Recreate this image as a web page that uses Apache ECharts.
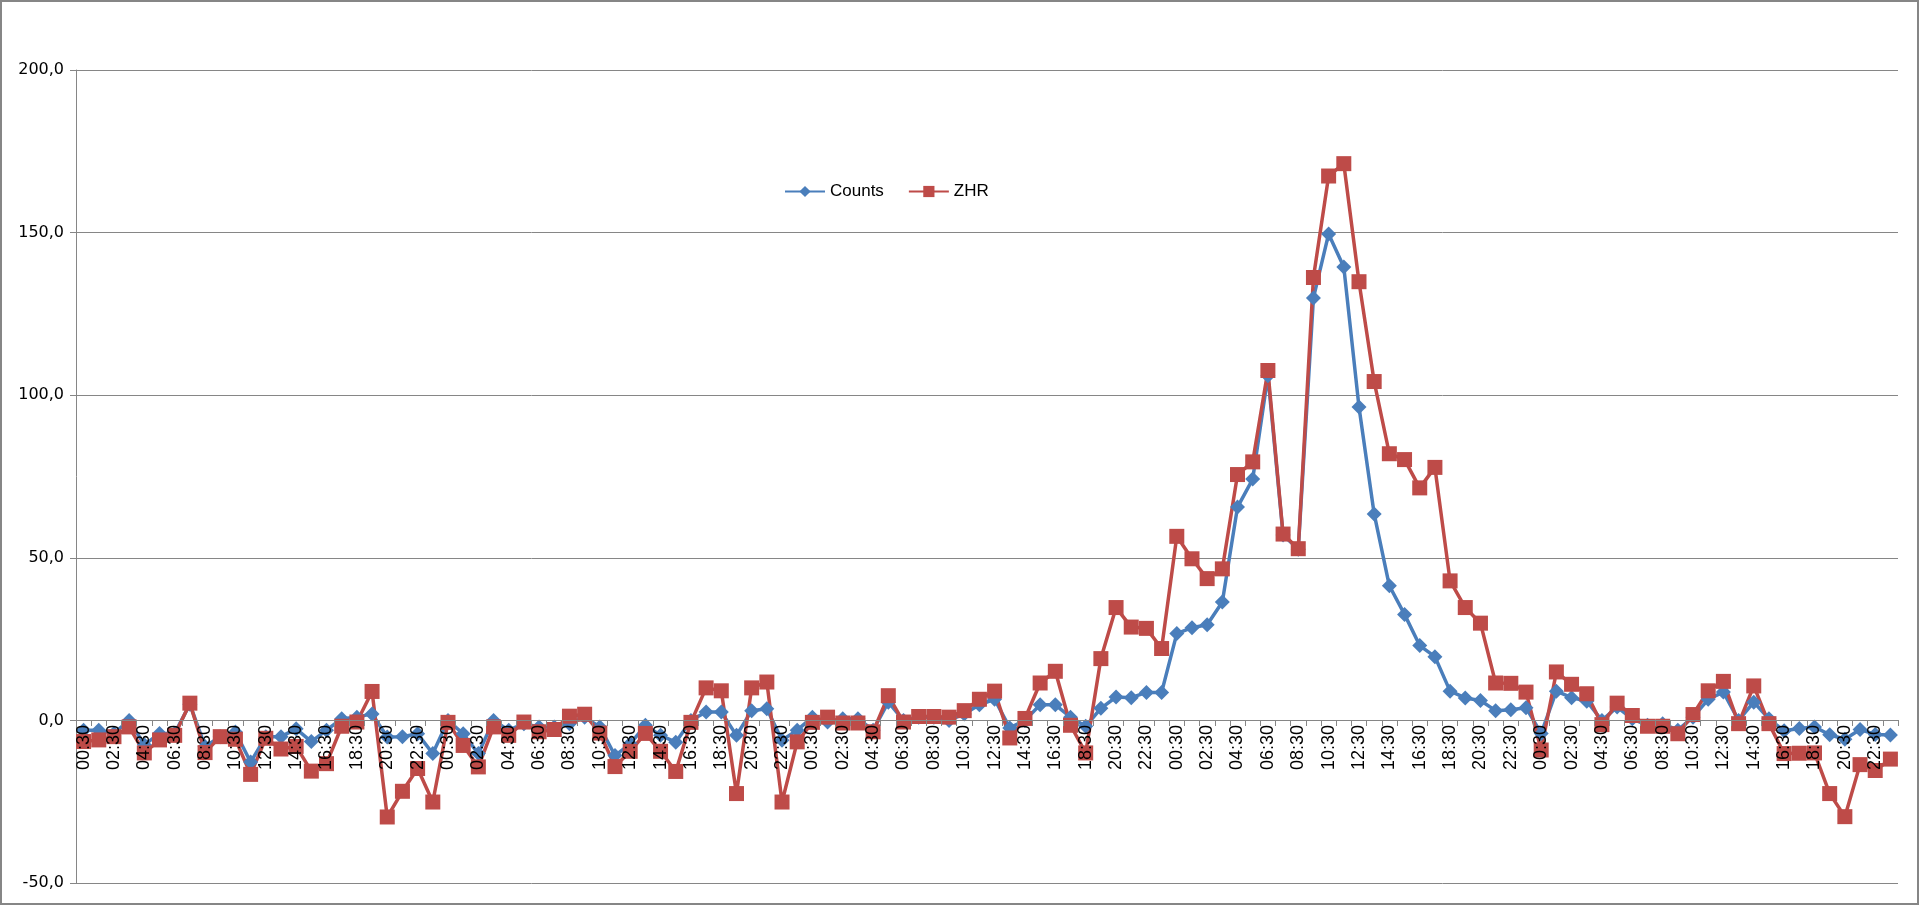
<!DOCTYPE html>
<html>
<head>
<meta charset="utf-8">
<script src="https://cdn.jsdelivr.net/npm/echarts@6/dist/echarts.min.js"></script>
<style>
  html, body { margin: 0; padding: 0; background: #fff; }
  #chart { width: 1920px; height: 906px; }
</style>
</head>
<body>
<div id="chart"></div>
<script>
// hourly bins, 5 days of observations
var hours = ['00:30','01:30','02:30','03:30','04:30','05:30','06:30','07:30','08:30','09:30','10:30','11:30',
             '12:30','13:30','14:30','15:30','16:30','17:30','18:30','19:30','20:30','21:30','22:30','23:30'];
var dayCount = 5;

var counts = [
  -3, -3, -4, 0, -7.5, -4, -4, 5, -8, -5, -3.6, -12.8, -5, -5, -2.6, -6.5, -3, 0.5, 1, 2, -5.1, -5, -4.1, -10.2,
  0, -4.1, -10.2, 0, -3, -1, -2, -2, -1, 1, -2, -10.8, -7.2, -1.5, -4.6, -6.7, 0, 2.6, 2.6, -4.6, 3, 3.6, -6.1, -3,
  1, -0.5, 0.5, 0.5, -3, 5.6, 0, 1, 1, 0, 2, 4.8, 6.5, -2.3, 0, 4.8, 4.8, 1, -1.8, 3.7, 7.2, 7, 8.6, 8.6,
  26.7, 28.5, 29.4, 36.4, 65.6, 74.2, 106, 57, 52.6, 129.9, 149.6, 139.4, 96.4, 63.5, 41.4, 32.6, 23, 19.6, 9, 6.9, 6.1, 3, 3.3, 3.9,
  -4, 9, 7, 5.9, 0, 4.1, 0.5, -1.5, -1, -3, 1, 6.5, 8.7, 0, 5.6, 0.5, -3.2, -2.5, -2, -4.4, -5.8, -2.8, -4.3, -4.5
];

var zhr = [
  -6.5, -6, -5, -2, -10, -6, -4.6, 5.3, -9.9, -5, -5.8, -16.6, -5.5, -8.8, -8, -15.6, -13.3, -1.8, -0.5, 8.9, -29.7, -21.8, -14.8, -25.1,
  -0.6, -7.7, -14.3, -2, -4.6, -0.5, -3.5, -2.8, 1.3, 1.9, -3.9, -14.2, -9.5, -4, -9.5, -15.7, -0.6, 10, 9.1, -22.5, 10, 11.8, -25.1, -6.6,
  -0.6, 1, -0.8, -0.8, -3.5, 7.6, -0.5, 1.2, 1.2, 1, 3, 6.5, 9, -5.4, 0.6, 11.5, 15.1, -1.5, -10, 19, 34.7, 28.7, 28.3, 22.1,
  56.6, 49.7, 43.6, 46.6, 75.6, 79.5, 107.6, 57.3, 52.8, 136.2, 167.4, 171.2, 134.9, 104.2, 82, 80.2, 71.5, 77.8, 42.9, 34.7, 29.9, 11.5, 11.4, 8.7,
  -9.1, 14.9, 11.1, 8.2, -1.3, 5.3, 1.5, -1.8, -1.8, -4.1, 1.8, 9.1, 12, -1, 10.6, -1, -10.2, -10.1, -10, -22.5, -29.6, -13.6, -15.4, -11.9
];

var categories = [];
for (var d = 0; d < dayCount; d++) {
  hours.forEach(function (h) { categories.push(h); });
}

var gray = '#868686';
var chart = echarts.init(document.getElementById('chart'));

chart.setOption({
  animation: false,
  textStyle: { fontFamily: 'Liberation Sans, Arial, sans-serif' },
  graphic: [{
    type: 'rect',
    shape: { x: 1, y: 1, width: 1917, height: 903 },
    style: { fill: 'none', stroke: gray, lineWidth: 2 }
  }],
  legend: {
    left: 779,
    top: 178,
    itemWidth: 40,
    itemHeight: 14,
    itemGap: 24,
    textStyle: { fontSize: 17, color: '#000' },
    data: ['Counts', 'ZHR']
  },
  grid: { left: 76, right: 22, top: 70, bottom: 23 },
  xAxis: {
    type: 'category',
    data: categories,
    boundaryGap: true,
    z: 10, // labels sit over the markers, as in the original
    // category axis crosses the value axis at 0, like the Excel original
    offset: -163,
    axisLine: { onZero: false, lineStyle: { color: gray, width: 1 } },
    axisTick: { show: true, interval: 0, length: 6, lineStyle: { color: gray } },
    axisLabel: { interval: 1, rotate: 90, fontSize: 18, color: '#000', margin: 5 }
  },
  yAxis: {
    type: 'value',
    min: -50,
    max: 200,
    interval: 50,
    axisLine: { show: true, lineStyle: { color: gray } },
    axisTick: { show: true, length: 6, lineStyle: { color: gray } },
    splitLine: { lineStyle: { color: gray, width: 1 } },
    axisLabel: {
      fontFamily: 'DejaVu Sans',
      fontSize: 16,
      color: '#000',
      margin: 12,
      formatter: function (v) { return v.toFixed(1).replace('.', ','); }
    }
  },
  series: [
    {
      name: 'Counts',
      type: 'line',
      data: counts,
      symbol: 'diamond',
      symbolSize: 15,
      showAllSymbol: true,
      itemStyle: { color: '#4A7EBB' },
      lineStyle: { color: '#4A7EBB', width: 3.5 }
    },
    {
      name: 'ZHR',
      type: 'line',
      data: zhr,
      symbol: 'rect',
      symbolSize: 15,
      showAllSymbol: true,
      itemStyle: { color: '#BE4B48' },
      lineStyle: { color: '#BE4B48', width: 3.5 }
    }
  ]
});
</script>
</body>
</html>
